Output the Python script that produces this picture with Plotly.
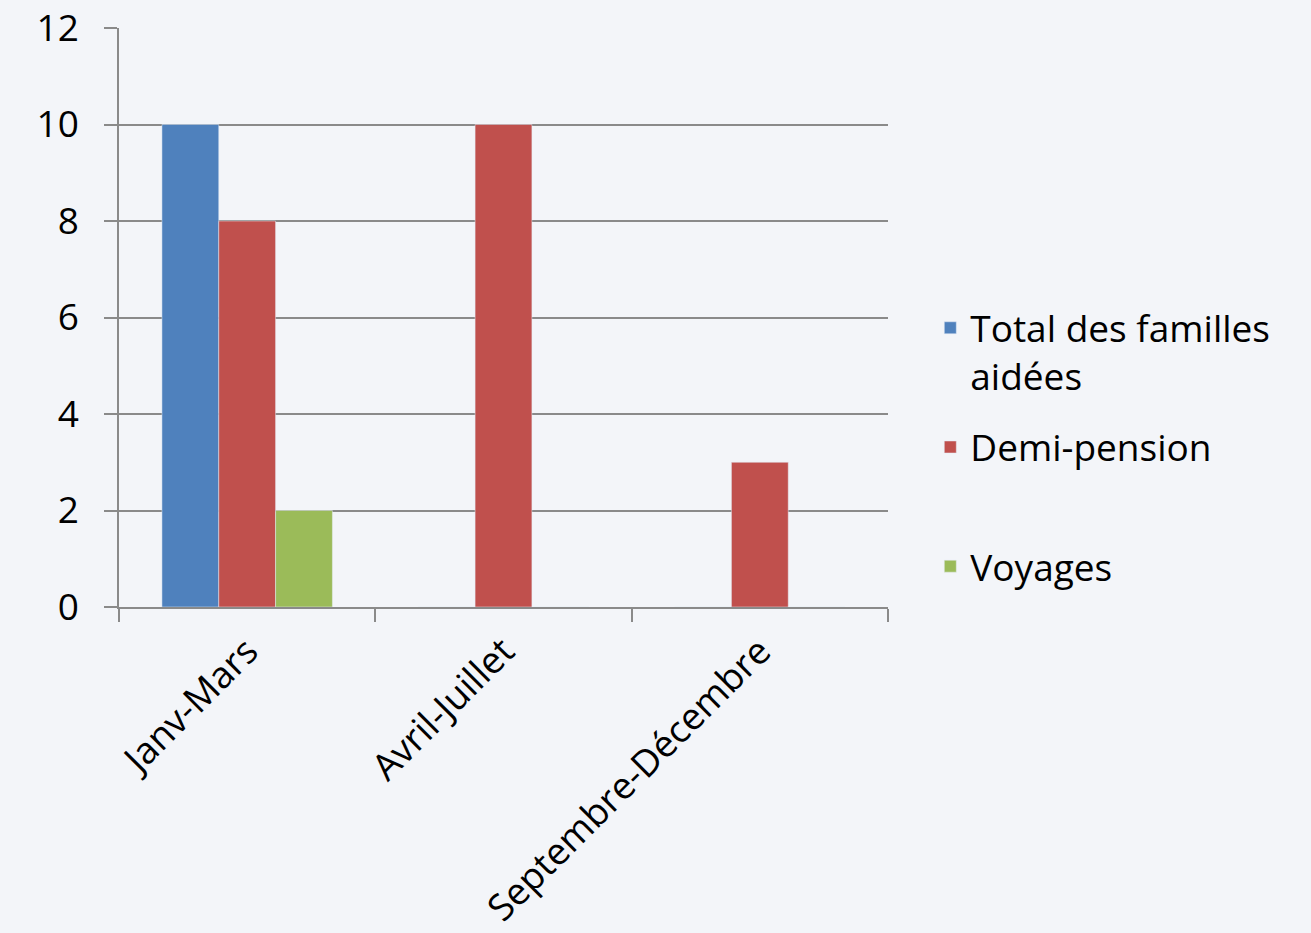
import plotly.graph_objects as go

categories = ["Janv-Mars", "Avril-Juillet", "Septembre-Décembre"]
total_familles = [10, 0, 0]
demi_pension = [8, 10, 3]
voyages = [2, 0, 0]
y_ticks = [0, 2, 4, 6, 8, 10, 12]
series_names = ["Total des familles<br>aidées", "Demi-pension<br> ", "Voyages<br> "]

FONT = "Open Sans"
GRID = "#8A8A8A"
BG = "#F3F5F9"
FS = 37

fig = go.Figure()
fig.add_trace(go.Bar(name=series_names[0], x=categories, y=total_familles,
                     marker_color="#4F81BD", legendgroup="a"))
fig.add_trace(go.Bar(name=series_names[1], x=categories, y=demi_pension,
                     marker_color="#C0504D", legendgroup="b"))
fig.add_trace(go.Bar(name=series_names[2], x=categories, y=voyages,
                     marker_color="#9BBB59", legendgroup="c"))

fig.update_layout(
    width=1311, height=933,
    margin=dict(l=119, r=423, t=28, b=326),
    paper_bgcolor=BG, plot_bgcolor=BG,
    font=dict(family=FONT, size=FS, color="#000000"),
    barmode="group", bargap=0.335, bargroupgap=0,
    showlegend=True,
    legend=dict(x=1.055, y=0.535, xanchor="left", yanchor="top",
                bgcolor="rgba(0,0,0,0)", font=dict(family=FONT, size=FS),
                tracegroupgap=20, itemwidth=30, valign="top"),
    xaxis=dict(showline=True, linecolor=GRID, linewidth=1.5,
               ticks="outside", ticklen=13, tickcolor=GRID, tickwidth=1.5,
               tickson="boundaries", tickangle=-45, showgrid=False, automargin=False,
               tickfont=dict(family=FONT, size=FS), ticklabelstandoff=6),
    yaxis=dict(range=[0, 12], tickvals=y_ticks, showline=True, linecolor=GRID, linewidth=1.5,
               ticks="outside", ticklen=13, tickcolor=GRID, tickwidth=1.5, automargin=False,
               showgrid=True, gridcolor=GRID, gridwidth=1.5, zeroline=False,
               tickfont=dict(family=FONT, size=FS), ticklabelstandoff=18),
)

fig.write_html("out.html", config={"displayModeBar": False},
               post_script="document.body.style.margin='0';")
